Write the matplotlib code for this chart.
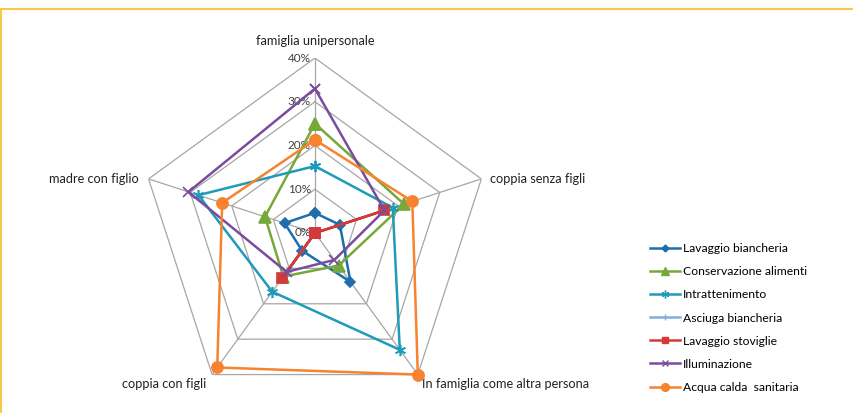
import numpy as np
import matplotlib
matplotlib.use("Agg")
import matplotlib.pyplot as plt
from matplotlib.lines import Line2D

plt.rcParams["font.family"] = ["Lato", "DejaVu Sans"]

# Household types, clockwise from the top
categories = ["famiglia unipersonale", "coppia senza figli",
              "In famiglia come altra persona", "coppia con figli",
              "madre con figlio"]

# Share of consumption per end use (fraction)
lavaggio_biancheria = [0.046, 0.060, 0.138, 0.050, 0.073]
conservazione_alimenti = [0.250, 0.214, 0.092, 0.123, 0.120]
intrattenimento = [0.153, 0.187, 0.330, 0.166, 0.280]
asciuga_biancheria = [0.0, 0.0, 0.0, 0.110, 0.0]
lavaggio_stoviglie = [0.0, 0.167, 0.0, 0.128, 0.0]
illuminazione = [0.330, 0.167, 0.076, 0.110, 0.304]
acqua_calda = [0.213, 0.234, 0.400, 0.380, 0.223]

series_names = ["Lavaggio biancheria", "Conservazione alimenti",
                "Intrattenimento", "Asciuga biancheria",
                "Lavaggio stoviglie", "Illuminazione",
                "Acqua calda  sanitaria"]
series_values = [lavaggio_biancheria, conservazione_alimenti, intrattenimento,
                 asciuga_biancheria, lavaggio_stoviglie, illuminazione,
                 acqua_calda]
colors = ["#1F6DAA", "#77A83A", "#1E9BB8", "#84AEDB", "#D23B3A",
          "#7A4C9E", "#F7822F"]
markers = ["D", "^", (6, 2, 0), "+", "s", "x", "o"]
msizes = [5, 8, 8, 7, 7, 7, 8]

ticks = [0.0, 0.1, 0.2, 0.3, 0.4]
tick_labels = ["0%", "10%", "20%", "30%", "40%"]

n = len(categories)
theta = np.arange(n) * 2 * np.pi / n
theta_closed = np.append(theta, theta[0])

fig = plt.figure(figsize=(8.54, 4.13), dpi=100)
ax = fig.add_axes([0.1639, 0.0121, 0.4098, 0.8475], projection="polar")
ax.set_theta_offset(np.pi / 2)
ax.set_theta_direction(-1)
ax.set_ylim(0, 0.40)
ax.grid(False)
ax.set_xticks([])
ax.set_yticks([])
ax.spines["polar"].set_visible(False)
ax.patch.set_alpha(0)

grid_color = "#A6A6A6"
for r in ticks[1:]:
    ax.plot(theta_closed, [r] * (n + 1), color=grid_color, lw=0.9, zorder=1)
for t in theta:
    ax.plot([t, t], [0, 0.40], color=grid_color, lw=0.9, zorder=1)

for r, lab in zip(ticks, tick_labels):
    ax.annotate(lab, (0, r), xytext=(-3, 0), textcoords="offset points",
                ha="right", va="center", fontsize=8.5, color="#404040",
                annotation_clip=False)

offsets = [((0, 12), "center", "center"), ((6, 0), "left", "center"),
           ((3, -7), "left", "center"), ((-4, -7), "right", "center"),
           ((-7, 0), "right", "center")]
for t, cat, (off, ha, va) in zip(theta, categories, offsets):
    ax.annotate(cat, (t, 0.40), xytext=off, textcoords="offset points",
                ha=ha, va=va, fontsize=9.2, color="#222222",
                annotation_clip=False)

handles = []
for name, vals, c, m, ms in zip(series_names, series_values, colors,
                                markers, msizes):
    ax.plot(theta_closed, vals + vals[:1], color=c, lw=1.8, marker=m,
            markersize=ms, markeredgewidth=1.2, zorder=3, clip_on=False)
    handles.append(Line2D([], [], color=c, lw=1.8, marker=m,
                          markersize=ms * 0.7, markeredgewidth=1.0))

fig.legend(handles, series_names, loc="upper left",
           bbox_to_anchor=(0.761, 0.411), frameon=False, fontsize=8.7,
           handlelength=2.5, handletextpad=0.2, labelspacing=1.0,
           borderaxespad=0, borderpad=0)

# gold frame along the top and left edges
frame_color = "#F7C948"
fig.add_artist(Line2D([0, 1], [0.978, 0.978], transform=fig.transFigure,
                      color=frame_color, lw=1.5))
fig.add_artist(Line2D([0.0015, 0.0015], [0, 0.978], transform=fig.transFigure,
                      color=frame_color, lw=1.5))

fig.savefig("out.png", dpi=100)
